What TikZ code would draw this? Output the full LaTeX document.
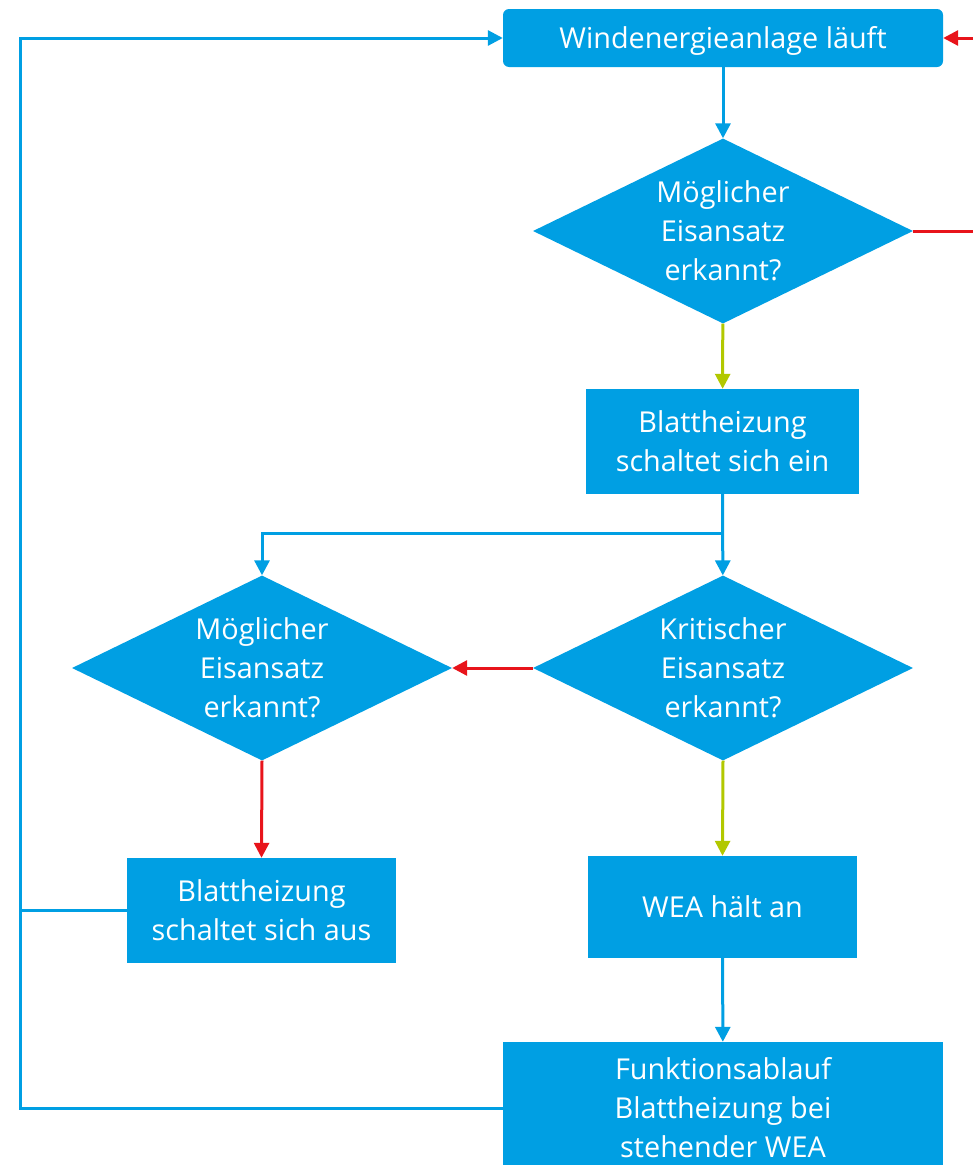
\documentclass[tikz,border=0pt]{standalone}
\usepackage{fontspec}
\setmainfont{Open Sans}
\usetikzlibrary{shapes.geometric,arrows.meta}
\definecolor{flowblue}{HTML}{009FE3}
\definecolor{flowred}{HTML}{E8141B}
\definecolor{flowgreen}{HTML}{B2C800}
\begin{document}
\begin{tikzpicture}[x=1pt,y=-1pt,
  procbox/.style={rectangle, fill=flowblue, text=white, inner sep=0pt, align=center,
    font=\fontsize{28.8}{39}\selectfont},
  decision/.style={diamond, shape aspect=2.05, fill=flowblue, text=white, inner sep=0pt,
    align=center, minimum width=380pt, minimum height=185pt,
    font=\fontsize{28.8}{39}\selectfont},
  link/.style={line width=3pt, draw=flowblue, -{Triangle[length=15pt,width=15pt]}},
  plainlink/.style={line width=3pt, draw=flowblue},
  nolink/.style={link, draw=flowred, -{Triangle[length=15pt,width=15pt]}},
  yeslink/.style={link, draw=flowgreen, -{Triangle[length=15pt,width=15pt]}}]
\useasboundingbox (0,0) rectangle (973,1165);
\clip (0,0) rectangle (973,1165);

% process steps and decisions
\node[procbox, rounded corners=6pt, minimum width=440pt, minimum height=58pt] (run) at (723,38) {\raisebox{-10.5pt}[0pt][0pt]{Windenergieanlage läuft}};
\node[decision] (d1) at (723,231) {Möglicher\\Eisansatz\\erkannt?};
\node[procbox, minimum width=273pt, minimum height=105pt] (heaton) at (722.5,441.5) {Blattheizung\\schaltet sich ein};
\node[decision] (d2) at (262,668) {Möglicher\\Eisansatz\\erkannt?};
\node[decision] (d3) at (723,668) {Kritischer\\Eisansatz\\erkannt?};
\node[procbox, minimum width=269pt, minimum height=105pt] (heatoff) at (261.5,910.5) {Blattheizung\\schaltet sich aus};
\node[procbox, minimum width=269pt, minimum height=102pt] (halt) at (722.5,907) {WEA hält an};
\node[procbox, minimum width=440pt, minimum height=132pt] (standby) at (723,1108) {Funktionsablauf\\Blattheizung bei\\stehender WEA};

% helper points for the routed lines
\coordinate (split) at (722.5,533);
\coordinate (loopcorner) at (20,38);
\coordinate (rightcorner) at (985,38);

% connectors
\draw[link] (run) -- (d1);
\draw[yeslink] (d1) -- (heaton);
\draw[nolink] (d1.east) -| (rightcorner) -- (run.east);
\draw[link] (heaton) -- (d3);
\draw[link] (split) -| (d2.north);
\draw[nolink] (d3.west) -- (d2.east);
\draw[nolink] (d2.south) -- (heatoff.north);
\draw[yeslink] (d3.south) -- (halt.north);
\draw[link] (halt) -- (standby);
\draw[link] (standby.west) -| (loopcorner) -- (run.west);
\draw[plainlink] (heatoff.west) -- (heatoff.west -| loopcorner);
\end{tikzpicture}
\end{document}
